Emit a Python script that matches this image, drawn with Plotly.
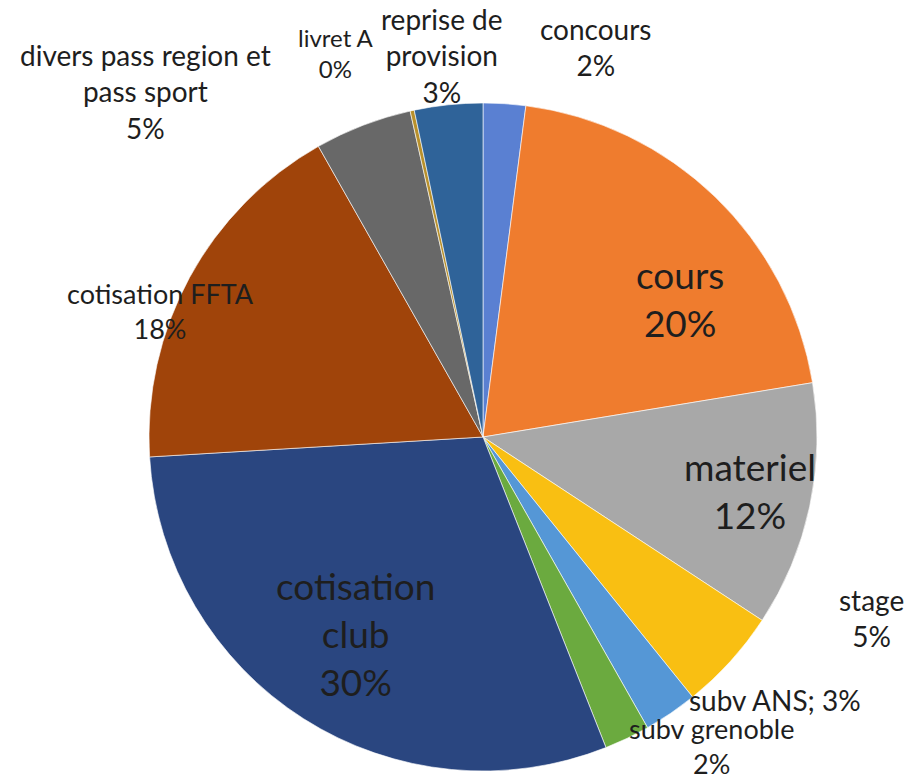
import plotly.graph_objects as go

# ---- data ----
categories = ["concours", "cours", "materiel", "stage", "subv ANS", "subv grenoble",
              "cotisation club", "cotisation FFTA", "divers pass region et pass sport",
              "livret A", "reprise de provision"]
values = [2.05, 20.35, 11.85, 4.95, 2.6, 2.2, 30.05, 17.75, 4.7, 0.2, 3.3]
colors = ["#5A80D2", "#EF7C2E", "#A8A8A8", "#F9BF12", "#5597D6", "#6BAA3F",
          "#2A4680", "#A0440A", "#686868", "#B8902C", "#2F6399"]

W, H = 909, 779
CX, CY, R = 483, 437, 334

total = sum(values)
pcts = [round(v / total * 100) for v in values]

# label layout (pixel centres, font size, line breaks, separator)
label_layout = {
    "concours": dict(x=595, y=47, size=28, lines=["concours"], sep="<br>"),
    "cours": dict(x=680, y=298, size=37, lines=["cours"], sep="<br>"),
    "materiel": dict(x=750, y=490, size=37, lines=["materiel"], sep="<br>"),
    "stage": dict(x=871, y=618, size=28, lines=["stage"], sep="<br>"),
    "subv ANS": dict(x=775, y=700, size=28, lines=["subv ANS"], sep="; "),
    "subv grenoble": dict(x=711, y=746, size=27, lines=["subv grenoble"], sep="<br>"),
    "cotisation club": dict(x=355, y=633, size=37, lines=["cotisation", "club"], sep="<br>"),
    "cotisation FFTA": dict(x=160, y=311, size=27, lines=["cotisation FFTA"], sep="<br>"),
    "divers pass region et pass sport": dict(x=145, y=92, size=28,
                                             lines=["divers pass region et", "pass sport"], sep="<br>"),
    "livret A": dict(x=336, y=53, size=24, lines=["livret A"], sep="<br>"),
    "reprise de provision": dict(x=442, y=56, size=28, lines=["reprise de", "provision"], sep="<br>"),
}

fig = go.Figure(go.Pie(
    labels=categories,
    values=values,
    sort=False,
    direction="clockwise",
    rotation=0,
    marker=dict(colors=colors, line=dict(color="rgba(255,255,255,0.6)", width=1)),
    textinfo="none",
    hoverinfo="label+percent",
    domain=dict(x=[(CX - R) / W, (CX + R) / W],
                y=[(H - CY - R) / H, (H - CY + R) / H]),
))

annotations = []
for cat, p in zip(categories, pcts):
    lay = label_layout[cat]
    text = "<br>".join(lay["lines"]) + lay["sep"] + f"{p}%"
    annotations.append(dict(
        x=lay["x"] / W, y=1 - lay["y"] / H, xref="paper", yref="paper",
        text=text, showarrow=False, xanchor="center", yanchor="middle",
        align="center", borderpad=0,
        font=dict(family="Lato, 'Open Sans', sans-serif", size=lay["size"], color="#1E1E1E"),
    ))

fig.update_layout(
    width=W, height=H,
    margin=dict(l=0, r=0, t=0, b=0),
    paper_bgcolor="white",
    plot_bgcolor="white",
    showlegend=False,
    annotations=annotations,
)

fig.write_html(
    "out.html",
    config={"displayModeBar": False},
    post_script="document.body.style.margin='0';document.body.style.overflow='hidden';",
)
